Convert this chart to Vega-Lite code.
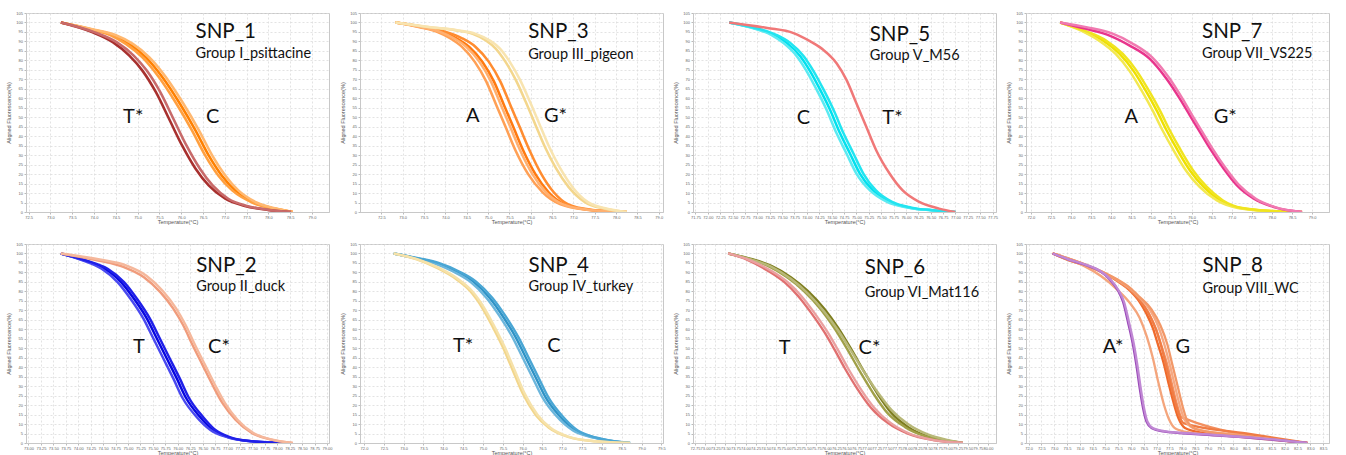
{
"$schema":"https://vega.github.io/schema/vega-lite/v6.json",
"background":"white",
"padding":{"left":5,"top":10,"right":2,"bottom":0},
"columns":4,
"spacing":{"row":16,"column":6},
"datasets":{
"curves":[
{"p":1,"k":"1Ca","t":73.24,"f":100},{"p":1,"k":"1Ca","t":73.97,"f":96.2},{"p":1,"k":"1Ca","t":74.43,"f":93.4},{"p":1,"k":"1Ca","t":74.81,"f":88.7},{"p":1,"k":"1Ca","t":75.19,"f":81.6},{"p":1,"k":"1Ca","t":75.57,"f":71.1},{"p":1,"k":"1Ca","t":75.95,"f":57.9},{"p":1,"k":"1Ca","t":76.33,"f":43.0},{"p":1,"k":"1Ca","t":76.63,"f":29.9},{"p":1,"k":"1Ca","t":76.93,"f":19.3},{"p":1,"k":"1Ca","t":77.24,"f":11.4},{"p":1,"k":"1Ca","t":77.69,"f":4.9},{"p":1,"k":"1Ca","t":78.14,"f":1.8},{"p":1,"k":"1Ca","t":78.56,"f":0},
{"p":1,"k":"1Cb","t":73.24,"f":100},{"p":1,"k":"1Cb","t":73.93,"f":96.2},{"p":1,"k":"1Cb","t":74.37,"f":93.4},{"p":1,"k":"1Cb","t":74.73,"f":88.7},{"p":1,"k":"1Cb","t":75.11,"f":81.6},{"p":1,"k":"1Cb","t":75.49,"f":71.1},{"p":1,"k":"1Cb","t":75.87,"f":57.9},{"p":1,"k":"1Cb","t":76.25,"f":43.0},{"p":1,"k":"1Cb","t":76.55,"f":29.9},{"p":1,"k":"1Cb","t":76.85,"f":19.3},{"p":1,"k":"1Cb","t":77.17,"f":11.4},{"p":1,"k":"1Cb","t":77.64,"f":4.9},{"p":1,"k":"1Cb","t":78.10,"f":1.8},{"p":1,"k":"1Cb","t":78.56,"f":0},
{"p":1,"k":"1Cc","t":73.24,"f":100},{"p":1,"k":"1Cc","t":74.01,"f":96.2},{"p":1,"k":"1Cc","t":74.49,"f":93.4},{"p":1,"k":"1Cc","t":74.89,"f":88.7},{"p":1,"k":"1Cc","t":75.27,"f":81.6},{"p":1,"k":"1Cc","t":75.65,"f":71.1},{"p":1,"k":"1Cc","t":76.03,"f":57.9},{"p":1,"k":"1Cc","t":76.41,"f":43.0},{"p":1,"k":"1Cc","t":76.71,"f":29.9},{"p":1,"k":"1Cc","t":77.01,"f":19.3},{"p":1,"k":"1Cc","t":77.31,"f":11.4},{"p":1,"k":"1Cc","t":77.74,"f":4.9},{"p":1,"k":"1Cc","t":78.18,"f":1.8},{"p":1,"k":"1Cc","t":78.56,"f":0},
{"p":1,"k":"1Ta","t":73.24,"f":100},{"p":1,"k":"1Ta","t":73.97,"f":94.8},{"p":1,"k":"1Ta","t":74.43,"f":89.6},{"p":1,"k":"1Ta","t":74.81,"f":82.5},{"p":1,"k":"1Ta","t":75.11,"f":74.6},{"p":1,"k":"1Ta","t":75.42,"f":63.2},{"p":1,"k":"1Ta","t":75.72,"f":49.2},{"p":1,"k":"1Ta","t":76.02,"f":35.1},{"p":1,"k":"1Ta","t":76.33,"f":22.8},{"p":1,"k":"1Ta","t":76.63,"f":14.0},{"p":1,"k":"1Ta","t":77.01,"f":7.0},{"p":1,"k":"1Ta","t":77.46,"f":3.2},{"p":1,"k":"1Ta","t":77.99,"f":1.1},{"p":1,"k":"1Ta","t":78.52,"f":0},
{"p":1,"k":"1Tb","t":73.24,"f":100},{"p":1,"k":"1Tb","t":74.02,"f":94.8},{"p":1,"k":"1Tb","t":74.52,"f":89.6},{"p":1,"k":"1Tb","t":74.91,"f":82.5},{"p":1,"k":"1Tb","t":75.21,"f":74.6},{"p":1,"k":"1Tb","t":75.52,"f":63.2},{"p":1,"k":"1Tb","t":75.82,"f":49.2},{"p":1,"k":"1Tb","t":76.12,"f":35.1},{"p":1,"k":"1Tb","t":76.43,"f":22.8},{"p":1,"k":"1Tb","t":76.72,"f":14.0},{"p":1,"k":"1Tb","t":77.08,"f":7.0},{"p":1,"k":"1Tb","t":77.51,"f":3.2},{"p":1,"k":"1Tb","t":78.02,"f":1.1},{"p":1,"k":"1Tb","t":78.52,"f":0},

{"p":3,"k":"3Aa","t":72.83,"f":100},{"p":3,"k":"3Aa","t":73.47,"f":97.5},{"p":3,"k":"3Aa","t":73.94,"f":94.9},{"p":3,"k":"3Aa","t":74.25,"f":91.8},{"p":3,"k":"3Aa","t":74.56,"f":87.1},{"p":3,"k":"3Aa","t":74.87,"f":79.2},{"p":3,"k":"3Aa","t":75.14,"f":68.8},{"p":3,"k":"3Aa","t":75.37,"f":56.6},{"p":3,"k":"3Aa","t":75.60,"f":44.4},{"p":3,"k":"3Aa","t":75.83,"f":32.2},{"p":3,"k":"3Aa","t":76.11,"f":20.0},{"p":3,"k":"3Aa","t":76.42,"f":10.4},{"p":3,"k":"3Aa","t":76.80,"f":4.0},{"p":3,"k":"3Aa","t":77.35,"f":1.2},{"p":3,"k":"3Aa","t":78.25,"f":0},
{"p":3,"k":"3Ab","t":72.83,"f":100},{"p":3,"k":"3Ab","t":73.40,"f":97.5},{"p":3,"k":"3Ab","t":73.82,"f":94.9},{"p":3,"k":"3Ab","t":74.10,"f":91.8},{"p":3,"k":"3Ab","t":74.39,"f":87.1},{"p":3,"k":"3Ab","t":74.69,"f":79.2},{"p":3,"k":"3Ab","t":74.96,"f":68.8},{"p":3,"k":"3Ab","t":75.19,"f":56.6},{"p":3,"k":"3Ab","t":75.42,"f":44.4},{"p":3,"k":"3Ab","t":75.65,"f":32.2},{"p":3,"k":"3Ab","t":75.94,"f":20.0},{"p":3,"k":"3Ab","t":76.28,"f":10.4},{"p":3,"k":"3Ab","t":76.70,"f":4.0},{"p":3,"k":"3Ab","t":77.30,"f":1.2},{"p":3,"k":"3Ab","t":78.25,"f":0},
{"p":3,"k":"3Ac","t":72.83,"f":100},{"p":3,"k":"3Ac","t":73.52,"f":97.5},{"p":3,"k":"3Ac","t":74.03,"f":94.9},{"p":3,"k":"3Ac","t":74.38,"f":91.8},{"p":3,"k":"3Ac","t":74.71,"f":87.1},{"p":3,"k":"3Ac","t":75.02,"f":79.2},{"p":3,"k":"3Ac","t":75.29,"f":68.8},{"p":3,"k":"3Ac","t":75.52,"f":56.6},{"p":3,"k":"3Ac","t":75.75,"f":44.4},{"p":3,"k":"3Ac","t":75.98,"f":32.2},{"p":3,"k":"3Ac","t":76.25,"f":20.0},{"p":3,"k":"3Ac","t":76.54,"f":10.4},{"p":3,"k":"3Ac","t":76.88,"f":4.0},{"p":3,"k":"3Ac","t":77.40,"f":1.2},{"p":3,"k":"3Ac","t":78.25,"f":0},
{"p":3,"k":"3Ad","t":72.83,"f":100},{"p":3,"k":"3Ad","t":73.44,"f":97.5},{"p":3,"k":"3Ad","t":73.89,"f":94.9},{"p":3,"k":"3Ad","t":74.19,"f":91.8},{"p":3,"k":"3Ad","t":74.49,"f":87.1},{"p":3,"k":"3Ad","t":74.80,"f":79.2},{"p":3,"k":"3Ad","t":75.07,"f":68.8},{"p":3,"k":"3Ad","t":75.30,"f":56.6},{"p":3,"k":"3Ad","t":75.53,"f":44.4},{"p":3,"k":"3Ad","t":75.76,"f":32.2},{"p":3,"k":"3Ad","t":76.04,"f":20.0},{"p":3,"k":"3Ad","t":76.36,"f":10.4},{"p":3,"k":"3Ad","t":76.76,"f":4.0},{"p":3,"k":"3Ad","t":77.33,"f":1.2},{"p":3,"k":"3Ad","t":78.25,"f":0},
{"p":3,"k":"3Ga","t":72.83,"f":100},{"p":3,"k":"3Ga","t":73.63,"f":97.5},{"p":3,"k":"3Ga","t":74.25,"f":95.8},{"p":3,"k":"3Ga","t":74.64,"f":94.0},{"p":3,"k":"3Ga","t":74.95,"f":90.5},{"p":3,"k":"3Ga","t":75.18,"f":86.2},{"p":3,"k":"3Ga","t":75.41,"f":79.2},{"p":3,"k":"3Ga","t":75.65,"f":69.7},{"p":3,"k":"3Ga","t":75.88,"f":58.3},{"p":3,"k":"3Ga","t":76.11,"f":46.1},{"p":3,"k":"3Ga","t":76.34,"f":34.0},{"p":3,"k":"3Ga","t":76.58,"f":23.5},{"p":3,"k":"3Ga","t":76.89,"f":13.1},{"p":3,"k":"3Ga","t":77.27,"f":5.2},{"p":3,"k":"3Ga","t":77.74,"f":1.7},{"p":3,"k":"3Ga","t":78.25,"f":0},
{"p":3,"k":"3Gb","t":72.83,"f":100},{"p":3,"k":"3Gb","t":73.66,"f":97.5},{"p":3,"k":"3Gb","t":74.30,"f":95.8},{"p":3,"k":"3Gb","t":74.71,"f":94.0},{"p":3,"k":"3Gb","t":75.04,"f":90.5},{"p":3,"k":"3Gb","t":75.28,"f":86.2},{"p":3,"k":"3Gb","t":75.51,"f":79.2},{"p":3,"k":"3Gb","t":75.75,"f":69.7},{"p":3,"k":"3Gb","t":75.98,"f":58.3},{"p":3,"k":"3Gb","t":76.21,"f":46.1},{"p":3,"k":"3Gb","t":76.44,"f":34.0},{"p":3,"k":"3Gb","t":76.68,"f":23.5},{"p":3,"k":"3Gb","t":76.98,"f":13.1},{"p":3,"k":"3Gb","t":77.34,"f":5.2},{"p":3,"k":"3Gb","t":77.79,"f":1.7},{"p":3,"k":"3Gb","t":78.25,"f":0},

{"p":5,"k":"5Ca","t":72.43,"f":100},{"p":5,"k":"5Ca","t":72.93,"f":97.1},{"p":5,"k":"5Ca","t":73.33,"f":93.5},{"p":5,"k":"5Ca","t":73.60,"f":89.1},{"p":5,"k":"5Ca","t":73.87,"f":82.1},{"p":5,"k":"5Ca","t":74.07,"f":74.1},{"p":5,"k":"5Ca","t":74.27,"f":64.4},{"p":5,"k":"5Ca","t":74.47,"f":53.8},{"p":5,"k":"5Ca","t":74.67,"f":41.5},{"p":5,"k":"5Ca","t":74.87,"f":30.9},{"p":5,"k":"5Ca","t":75.07,"f":20.3},{"p":5,"k":"5Ca","t":75.33,"f":11.5},{"p":5,"k":"5Ca","t":75.67,"f":5.3},{"p":5,"k":"5Ca","t":76.07,"f":2.3},{"p":5,"k":"5Ca","t":76.53,"f":0.9},{"p":5,"k":"5Ca","t":77.00,"f":0},
{"p":5,"k":"5Cb","t":72.43,"f":100},{"p":5,"k":"5Cb","t":72.90,"f":97.1},{"p":5,"k":"5Cb","t":73.28,"f":93.5},{"p":5,"k":"5Cb","t":73.53,"f":89.1},{"p":5,"k":"5Cb","t":73.80,"f":82.1},{"p":5,"k":"5Cb","t":74.00,"f":74.1},{"p":5,"k":"5Cb","t":74.20,"f":64.4},{"p":5,"k":"5Cb","t":74.40,"f":53.8},{"p":5,"k":"5Cb","t":74.60,"f":41.5},{"p":5,"k":"5Cb","t":74.80,"f":30.9},{"p":5,"k":"5Cb","t":75.00,"f":20.3},{"p":5,"k":"5Cb","t":75.27,"f":11.5},{"p":5,"k":"5Cb","t":75.62,"f":5.3},{"p":5,"k":"5Cb","t":76.03,"f":2.3},{"p":5,"k":"5Cb","t":76.51,"f":0.9},{"p":5,"k":"5Cb","t":77.00,"f":0},
{"p":5,"k":"5Cc","t":72.43,"f":100},{"p":5,"k":"5Cc","t":72.96,"f":97.1},{"p":5,"k":"5Cc","t":73.38,"f":93.5},{"p":5,"k":"5Cc","t":73.67,"f":89.1},{"p":5,"k":"5Cc","t":73.94,"f":82.1},{"p":5,"k":"5Cc","t":74.14,"f":74.1},{"p":5,"k":"5Cc","t":74.34,"f":64.4},{"p":5,"k":"5Cc","t":74.54,"f":53.8},{"p":5,"k":"5Cc","t":74.74,"f":41.5},{"p":5,"k":"5Cc","t":74.94,"f":30.9},{"p":5,"k":"5Cc","t":75.14,"f":20.3},{"p":5,"k":"5Cc","t":75.39,"f":11.5},{"p":5,"k":"5Cc","t":75.72,"f":5.3},{"p":5,"k":"5Cc","t":76.11,"f":2.3},{"p":5,"k":"5Cc","t":76.55,"f":0.9},{"p":5,"k":"5Cc","t":77.00,"f":0},
{"p":5,"k":"5T","t":72.43,"f":100},{"p":5,"k":"5T","t":73.20,"f":97.1},{"p":5,"k":"5T","t":73.73,"f":94.4},{"p":5,"k":"5T","t":74.07,"f":90.0},{"p":5,"k":"5T","t":74.33,"f":85.6},{"p":5,"k":"5T","t":74.60,"f":78.5},{"p":5,"k":"5T","t":74.80,"f":69.7},{"p":5,"k":"5T","t":75.00,"f":57.4},{"p":5,"k":"5T","t":75.20,"f":45.0},{"p":5,"k":"5T","t":75.40,"f":32.6},{"p":5,"k":"5T","t":75.67,"f":20.3},{"p":5,"k":"5T","t":75.93,"f":11.5},{"p":5,"k":"5T","t":76.27,"f":5.3},{"p":5,"k":"5T","t":76.67,"f":1.8},{"p":5,"k":"5T","t":77.00,"f":0},

{"p":7,"k":"7Aa","t":72.73,"f":100},{"p":7,"k":"7Aa","t":73.30,"f":95.7},{"p":7,"k":"7Aa","t":73.80,"f":90.4},{"p":7,"k":"7Aa","t":74.21,"f":83.4},{"p":7,"k":"7Aa","t":74.55,"f":74.6},{"p":7,"k":"7Aa","t":74.88,"f":63.2},{"p":7,"k":"7Aa","t":75.13,"f":53.6},{"p":7,"k":"7Aa","t":75.38,"f":43.0},{"p":7,"k":"7Aa","t":75.63,"f":33.4},{"p":7,"k":"7Aa","t":75.96,"f":21.9},{"p":7,"k":"7Aa","t":76.30,"f":13.2},{"p":7,"k":"7Aa","t":76.71,"f":6.1},{"p":7,"k":"7Aa","t":77.21,"f":2.1},{"p":7,"k":"7Aa","t":77.96,"f":0.5},{"p":7,"k":"7Aa","t":78.75,"f":0},
{"p":7,"k":"7Ab","t":72.73,"f":100},{"p":7,"k":"7Ab","t":73.25,"f":95.7},{"p":7,"k":"7Ab","t":73.70,"f":90.4},{"p":7,"k":"7Ab","t":74.11,"f":83.4},{"p":7,"k":"7Ab","t":74.45,"f":74.6},{"p":7,"k":"7Ab","t":74.78,"f":63.2},{"p":7,"k":"7Ab","t":75.03,"f":53.6},{"p":7,"k":"7Ab","t":75.28,"f":43.0},{"p":7,"k":"7Ab","t":75.53,"f":33.4},{"p":7,"k":"7Ab","t":75.86,"f":21.9},{"p":7,"k":"7Ab","t":76.20,"f":13.2},{"p":7,"k":"7Ab","t":76.63,"f":6.1},{"p":7,"k":"7Ab","t":77.15,"f":2.1},{"p":7,"k":"7Ab","t":77.92,"f":0.5},{"p":7,"k":"7Ab","t":78.75,"f":0},
{"p":7,"k":"7Ac","t":72.73,"f":100},{"p":7,"k":"7Ac","t":73.34,"f":95.7},{"p":7,"k":"7Ac","t":73.88,"f":90.4},{"p":7,"k":"7Ac","t":74.29,"f":83.4},{"p":7,"k":"7Ac","t":74.63,"f":74.6},{"p":7,"k":"7Ac","t":74.96,"f":63.2},{"p":7,"k":"7Ac","t":75.21,"f":53.6},{"p":7,"k":"7Ac","t":75.46,"f":43.0},{"p":7,"k":"7Ac","t":75.71,"f":33.4},{"p":7,"k":"7Ac","t":76.04,"f":21.9},{"p":7,"k":"7Ac","t":76.38,"f":13.2},{"p":7,"k":"7Ac","t":76.78,"f":6.1},{"p":7,"k":"7Ac","t":77.26,"f":2.1},{"p":7,"k":"7Ac","t":78.00,"f":0.5},{"p":7,"k":"7Ac","t":78.75,"f":0},
{"p":7,"k":"7Ga","t":72.73,"f":100},{"p":7,"k":"7Ga","t":73.38,"f":96.6},{"p":7,"k":"7Ga","t":73.96,"f":93.1},{"p":7,"k":"7Ga","t":74.46,"f":87.8},{"p":7,"k":"7Ga","t":74.96,"f":80.8},{"p":7,"k":"7Ga","t":75.38,"f":70.2},{"p":7,"k":"7Ga","t":75.71,"f":59.7},{"p":7,"k":"7Ga","t":75.96,"f":50.9},{"p":7,"k":"7Ga","t":76.21,"f":42.1},{"p":7,"k":"7Ga","t":76.46,"f":33.4},{"p":7,"k":"7Ga","t":76.80,"f":22.8},{"p":7,"k":"7Ga","t":77.13,"f":14.0},{"p":7,"k":"7Ga","t":77.55,"f":7.0},{"p":7,"k":"7Ga","t":78.05,"f":2.6},{"p":7,"k":"7Ga","t":78.75,"f":0},
{"p":7,"k":"7Gb","t":72.73,"f":100},{"p":7,"k":"7Gb","t":73.41,"f":97.4},{"p":7,"k":"7Gb","t":74.02,"f":94.2},{"p":7,"k":"7Gb","t":74.52,"f":89.0},{"p":7,"k":"7Gb","t":75.02,"f":81.6},{"p":7,"k":"7Gb","t":75.44,"f":70.8},{"p":7,"k":"7Gb","t":75.77,"f":59.9},{"p":7,"k":"7Gb","t":76.02,"f":50.9},{"p":7,"k":"7Gb","t":76.27,"f":42.1},{"p":7,"k":"7Gb","t":76.52,"f":33.4},{"p":7,"k":"7Gb","t":76.86,"f":22.8},{"p":7,"k":"7Gb","t":77.19,"f":14.0},{"p":7,"k":"7Gb","t":77.60,"f":7.0},{"p":7,"k":"7Gb","t":78.08,"f":2.6},{"p":7,"k":"7Gb","t":78.75,"f":0},

{"p":2,"k":"2Ta","t":73.65,"f":100},{"p":2,"k":"2Ta","t":74.13,"f":96.3},{"p":2,"k":"2Ta","t":74.53,"f":91.9},{"p":2,"k":"2Ta","t":74.86,"f":84.9},{"p":2,"k":"2Ta","t":75.12,"f":76.1},{"p":2,"k":"2Ta","t":75.38,"f":65.6},{"p":2,"k":"2Ta","t":75.58,"f":55.1},{"p":2,"k":"2Ta","t":75.78,"f":44.6},{"p":2,"k":"2Ta","t":75.98,"f":34.1},{"p":2,"k":"2Ta","t":76.17,"f":23.6},{"p":2,"k":"2Ta","t":76.44,"f":14.0},{"p":2,"k":"2Ta","t":76.70,"f":7.0},{"p":2,"k":"2Ta","t":77.03,"f":3.0},{"p":2,"k":"2Ta","t":77.49,"f":0.9},{"p":2,"k":"2Ta","t":78.21,"f":0},
{"p":2,"k":"2Tb","t":73.65,"f":100},{"p":2,"k":"2Tb","t":74.10,"f":96.3},{"p":2,"k":"2Tb","t":74.47,"f":91.9},{"p":2,"k":"2Tb","t":74.79,"f":84.9},{"p":2,"k":"2Tb","t":75.05,"f":76.1},{"p":2,"k":"2Tb","t":75.31,"f":65.6},{"p":2,"k":"2Tb","t":75.51,"f":55.1},{"p":2,"k":"2Tb","t":75.71,"f":44.6},{"p":2,"k":"2Tb","t":75.91,"f":34.1},{"p":2,"k":"2Tb","t":76.10,"f":23.6},{"p":2,"k":"2Tb","t":76.37,"f":14.0},{"p":2,"k":"2Tb","t":76.65,"f":7.0},{"p":2,"k":"2Tb","t":77.00,"f":3.0},{"p":2,"k":"2Tb","t":77.47,"f":0.9},{"p":2,"k":"2Tb","t":78.21,"f":0},
{"p":2,"k":"2Tc","t":73.65,"f":100},{"p":2,"k":"2Tc","t":74.16,"f":96.3},{"p":2,"k":"2Tc","t":74.59,"f":91.9},{"p":2,"k":"2Tc","t":74.92,"f":84.9},{"p":2,"k":"2Tc","t":75.18,"f":76.1},{"p":2,"k":"2Tc","t":75.44,"f":65.6},{"p":2,"k":"2Tc","t":75.64,"f":55.1},{"p":2,"k":"2Tc","t":75.84,"f":44.6},{"p":2,"k":"2Tc","t":76.04,"f":34.1},{"p":2,"k":"2Tc","t":76.23,"f":23.6},{"p":2,"k":"2Tc","t":76.50,"f":14.0},{"p":2,"k":"2Tc","t":76.75,"f":7.0},{"p":2,"k":"2Tc","t":77.06,"f":3.0},{"p":2,"k":"2Tc","t":77.51,"f":0.9},{"p":2,"k":"2Tc","t":78.21,"f":0},
{"p":2,"k":"2Ca","t":73.65,"f":100},{"p":2,"k":"2Ca","t":74.40,"f":96.3},{"p":2,"k":"2Ca","t":74.92,"f":92.8},{"p":2,"k":"2Ca","t":75.32,"f":87.5},{"p":2,"k":"2Ca","t":75.65,"f":79.6},{"p":2,"k":"2Ca","t":75.91,"f":70.9},{"p":2,"k":"2Ca","t":76.11,"f":62.1},{"p":2,"k":"2Ca","t":76.30,"f":51.6},{"p":2,"k":"2Ca","t":76.50,"f":41.1},{"p":2,"k":"2Ca","t":76.70,"f":30.6},{"p":2,"k":"2Ca","t":76.90,"f":21.0},{"p":2,"k":"2Ca","t":77.16,"f":12.3},{"p":2,"k":"2Ca","t":77.49,"f":5.3},{"p":2,"k":"2Ca","t":77.88,"f":1.8},{"p":2,"k":"2Ca","t":78.31,"f":0},
{"p":2,"k":"2Cb","t":73.65,"f":100},{"p":2,"k":"2Cb","t":74.43,"f":96.8},{"p":2,"k":"2Cb","t":74.97,"f":93.6},{"p":2,"k":"2Cb","t":75.37,"f":88.3},{"p":2,"k":"2Cb","t":75.70,"f":80.2},{"p":2,"k":"2Cb","t":75.96,"f":71.3},{"p":2,"k":"2Cb","t":76.16,"f":62.1},{"p":2,"k":"2Cb","t":76.35,"f":51.6},{"p":2,"k":"2Cb","t":76.55,"f":41.1},{"p":2,"k":"2Cb","t":76.75,"f":30.6},{"p":2,"k":"2Cb","t":76.95,"f":21.0},{"p":2,"k":"2Cb","t":77.20,"f":12.3},{"p":2,"k":"2Cb","t":77.52,"f":5.3},{"p":2,"k":"2Cb","t":77.90,"f":1.8},{"p":2,"k":"2Cb","t":78.31,"f":0},

{"p":4,"k":"4Ca","t":72.75,"f":100},{"p":4,"k":"4Ca","t":73.33,"f":97.5},{"p":4,"k":"4Ca","t":73.83,"f":94.9},{"p":4,"k":"4Ca","t":74.33,"f":90.5},{"p":4,"k":"4Ca","t":74.75,"f":85.3},{"p":4,"k":"4Ca","t":75.17,"f":76.5},{"p":4,"k":"4Ca","t":75.50,"f":66.9},{"p":4,"k":"4Ca","t":75.83,"f":55.6},{"p":4,"k":"4Ca","t":76.08,"f":45.1},{"p":4,"k":"4Ca","t":76.33,"f":34.6},{"p":4,"k":"4Ca","t":76.58,"f":24.1},{"p":4,"k":"4Ca","t":76.92,"f":14.5},{"p":4,"k":"4Ca","t":77.33,"f":6.6},{"p":4,"k":"4Ca","t":77.83,"f":2.8},{"p":4,"k":"4Ca","t":78.71,"f":0},
{"p":4,"k":"4Cb","t":72.75,"f":100},{"p":4,"k":"4Cb","t":73.29,"f":97.5},{"p":4,"k":"4Cb","t":73.75,"f":94.9},{"p":4,"k":"4Cb","t":74.25,"f":90.5},{"p":4,"k":"4Cb","t":74.67,"f":85.3},{"p":4,"k":"4Cb","t":75.09,"f":76.5},{"p":4,"k":"4Cb","t":75.42,"f":66.9},{"p":4,"k":"4Cb","t":75.75,"f":55.6},{"p":4,"k":"4Cb","t":76.00,"f":45.1},{"p":4,"k":"4Cb","t":76.25,"f":34.6},{"p":4,"k":"4Cb","t":76.50,"f":24.1},{"p":4,"k":"4Cb","t":76.84,"f":14.5},{"p":4,"k":"4Cb","t":77.27,"f":6.6},{"p":4,"k":"4Cb","t":77.79,"f":2.8},{"p":4,"k":"4Cb","t":78.71,"f":0},
{"p":4,"k":"4Cc","t":72.75,"f":100},{"p":4,"k":"4Cc","t":73.37,"f":97.5},{"p":4,"k":"4Cc","t":73.90,"f":94.9},{"p":4,"k":"4Cc","t":74.40,"f":90.5},{"p":4,"k":"4Cc","t":74.82,"f":85.3},{"p":4,"k":"4Cc","t":75.24,"f":76.5},{"p":4,"k":"4Cc","t":75.57,"f":66.9},{"p":4,"k":"4Cc","t":75.90,"f":55.6},{"p":4,"k":"4Cc","t":76.15,"f":45.1},{"p":4,"k":"4Cc","t":76.40,"f":34.6},{"p":4,"k":"4Cc","t":76.65,"f":24.1},{"p":4,"k":"4Cc","t":76.99,"f":14.5},{"p":4,"k":"4Cc","t":77.39,"f":6.6},{"p":4,"k":"4Cc","t":77.87,"f":2.8},{"p":4,"k":"4Cc","t":78.71,"f":0},
{"p":4,"k":"4Ta","t":72.75,"f":100},{"p":4,"k":"4Ta","t":73.33,"f":96.9},{"p":4,"k":"4Ta","t":73.83,"f":92.5},{"p":4,"k":"4Ta","t":74.33,"f":86.4},{"p":4,"k":"4Ta","t":74.67,"f":80.3},{"p":4,"k":"4Ta","t":75.00,"f":70.7},{"p":4,"k":"4Ta","t":75.25,"f":61.1},{"p":4,"k":"4Ta","t":75.50,"f":50.6},{"p":4,"k":"4Ta","t":75.75,"f":38.4},{"p":4,"k":"4Ta","t":76.00,"f":26.2},{"p":4,"k":"4Ta","t":76.33,"f":14.8},{"p":4,"k":"4Ta","t":76.67,"f":7.9},{"p":4,"k":"4Ta","t":77.17,"f":3.1},{"p":4,"k":"4Ta","t":77.83,"f":0.9},{"p":4,"k":"4Ta","t":78.71,"f":0},
{"p":4,"k":"4Tb","t":72.75,"f":100},{"p":4,"k":"4Tb","t":73.36,"f":96.9},{"p":4,"k":"4Tb","t":73.88,"f":92.5},{"p":4,"k":"4Tb","t":74.38,"f":86.4},{"p":4,"k":"4Tb","t":74.72,"f":80.3},{"p":4,"k":"4Tb","t":75.05,"f":70.7},{"p":4,"k":"4Tb","t":75.30,"f":61.1},{"p":4,"k":"4Tb","t":75.55,"f":50.6},{"p":4,"k":"4Tb","t":75.80,"f":38.4},{"p":4,"k":"4Tb","t":76.05,"f":26.2},{"p":4,"k":"4Tb","t":76.38,"f":14.8},{"p":4,"k":"4Tb","t":76.71,"f":7.9},{"p":4,"k":"4Tb","t":77.20,"f":3.1},{"p":4,"k":"4Tb","t":77.85,"f":0.9},{"p":4,"k":"4Tb","t":78.71,"f":0},

{"p":6,"k":"6Ca","t":73.57,"f":100},{"p":6,"k":"6Ca","t":74.14,"f":97.1},{"p":6,"k":"6Ca","t":74.64,"f":93.5},{"p":6,"k":"6Ca","t":75.13,"f":87.4},{"p":6,"k":"6Ca","t":75.54,"f":80.3},{"p":6,"k":"6Ca","t":75.96,"f":70.6},{"p":6,"k":"6Ca","t":76.29,"f":60.9},{"p":6,"k":"6Ca","t":76.62,"f":49.4},{"p":6,"k":"6Ca","t":76.95,"f":37.1},{"p":6,"k":"6Ca","t":77.28,"f":25.6},{"p":6,"k":"6Ca","t":77.61,"f":15.9},{"p":6,"k":"6Ca","t":78.02,"f":8.5},{"p":6,"k":"6Ca","t":78.51,"f":3.5},{"p":6,"k":"6Ca","t":79.01,"f":1.2},{"p":6,"k":"6Ca","t":79.38,"f":0},
{"p":6,"k":"6Cb","t":73.57,"f":100},{"p":6,"k":"6Cb","t":74.09,"f":97.1},{"p":6,"k":"6Cb","t":74.54,"f":93.5},{"p":6,"k":"6Cb","t":75.03,"f":87.4},{"p":6,"k":"6Cb","t":75.44,"f":80.3},{"p":6,"k":"6Cb","t":75.86,"f":70.6},{"p":6,"k":"6Cb","t":76.19,"f":60.9},{"p":6,"k":"6Cb","t":76.52,"f":49.4},{"p":6,"k":"6Cb","t":76.85,"f":37.1},{"p":6,"k":"6Cb","t":77.18,"f":25.6},{"p":6,"k":"6Cb","t":77.51,"f":15.9},{"p":6,"k":"6Cb","t":77.94,"f":8.5},{"p":6,"k":"6Cb","t":78.46,"f":3.5},{"p":6,"k":"6Cb","t":78.99,"f":1.2},{"p":6,"k":"6Cb","t":79.38,"f":0},
{"p":6,"k":"6Cc","t":73.57,"f":100},{"p":6,"k":"6Cc","t":74.14,"f":96.8},{"p":6,"k":"6Cc","t":74.64,"f":93.0},{"p":6,"k":"6Cc","t":75.13,"f":86.5},{"p":6,"k":"6Cc","t":75.54,"f":79.0},{"p":6,"k":"6Cc","t":75.96,"f":69.0},{"p":6,"k":"6Cc","t":76.29,"f":59.5},{"p":6,"k":"6Cc","t":76.62,"f":48.5},{"p":6,"k":"6Cc","t":76.95,"f":37.0},{"p":6,"k":"6Cc","t":77.28,"f":26.5},{"p":6,"k":"6Cc","t":77.61,"f":17.5},{"p":6,"k":"6Cc","t":78.02,"f":10.0},{"p":6,"k":"6Cc","t":78.51,"f":4.5},{"p":6,"k":"6Cc","t":79.01,"f":1.5},{"p":6,"k":"6Cc","t":79.38,"f":0},
{"p":6,"k":"6Ta","t":73.57,"f":100},{"p":6,"k":"6Ta","t":74.06,"f":96.5},{"p":6,"k":"6Ta","t":74.55,"f":90.9},{"p":6,"k":"6Ta","t":74.97,"f":84.7},{"p":6,"k":"6Ta","t":75.30,"f":77.6},{"p":6,"k":"6Ta","t":75.62,"f":68.8},{"p":6,"k":"6Ta","t":75.96,"f":58.2},{"p":6,"k":"6Ta","t":76.20,"f":49.4},{"p":6,"k":"6Ta","t":76.45,"f":39.7},{"p":6,"k":"6Ta","t":76.78,"f":28.2},{"p":6,"k":"6Ta","t":77.11,"f":18.5},{"p":6,"k":"6Ta","t":77.52,"f":10.6},{"p":6,"k":"6Ta","t":78.02,"f":4.9},{"p":6,"k":"6Ta","t":78.68,"f":1.4},{"p":6,"k":"6Ta","t":79.38,"f":0},
{"p":6,"k":"6Tb","t":73.57,"f":100},{"p":6,"k":"6Tb","t":74.10,"f":96.5},{"p":6,"k":"6Tb","t":74.63,"f":90.9},{"p":6,"k":"6Tb","t":75.05,"f":84.7},{"p":6,"k":"6Tb","t":75.38,"f":77.6},{"p":6,"k":"6Tb","t":75.70,"f":68.8},{"p":6,"k":"6Tb","t":76.04,"f":58.2},{"p":6,"k":"6Tb","t":76.28,"f":49.4},{"p":6,"k":"6Tb","t":76.53,"f":39.7},{"p":6,"k":"6Tb","t":76.86,"f":28.2},{"p":6,"k":"6Tb","t":77.19,"f":18.5},{"p":6,"k":"6Tb","t":77.59,"f":10.6},{"p":6,"k":"6Tb","t":78.07,"f":4.9},{"p":6,"k":"6Tb","t":78.71,"f":1.4},{"p":6,"k":"6Tb","t":79.38,"f":0},

{"p":8,"k":"8Ga","t":72.94,"f":100},{"p":8,"k":"8Ga","t":73.59,"f":96.3},{"p":8,"k":"8Ga","t":74.25,"f":93.6},{"p":8,"k":"8Ga","t":74.90,"f":90.1},{"p":8,"k":"8Ga","t":75.42,"f":85.8},{"p":8,"k":"8Ga","t":75.95,"f":80.5},{"p":8,"k":"8Ga","t":76.34,"f":74.4},{"p":8,"k":"8Ga","t":76.60,"f":68.3},{"p":8,"k":"8Ga","t":76.86,"f":60.4},{"p":8,"k":"8Ga","t":77.06,"f":51.6},{"p":8,"k":"8Ga","t":77.26,"f":42.9},{"p":8,"k":"8Ga","t":77.45,"f":32.4},{"p":8,"k":"8Ga","t":77.65,"f":21.9},{"p":8,"k":"8Ga","t":77.85,"f":13.1},{"p":8,"k":"8Ga","t":78.11,"f":7.9},{"p":8,"k":"8Ga","t":78.83,"f":5.3},{"p":8,"k":"8Ga","t":80.14,"f":3.5},{"p":8,"k":"8Ga","t":81.44,"f":2.1},{"p":8,"k":"8Ga","t":82.88,"f":0},
{"p":8,"k":"8Gb","t":72.94,"f":100},{"p":8,"k":"8Gb","t":73.59,"f":96.3},{"p":8,"k":"8Gb","t":74.25,"f":93.6},{"p":8,"k":"8Gb","t":74.90,"f":90.1},{"p":8,"k":"8Gb","t":75.42,"f":86.0},{"p":8,"k":"8Gb","t":75.95,"f":81.0},{"p":8,"k":"8Gb","t":76.34,"f":75.5},{"p":8,"k":"8Gb","t":76.65,"f":69.5},{"p":8,"k":"8Gb","t":76.95,"f":61.0},{"p":8,"k":"8Gb","t":77.18,"f":51.6},{"p":8,"k":"8Gb","t":77.40,"f":42.0},{"p":8,"k":"8Gb","t":77.60,"f":31.0},{"p":8,"k":"8Gb","t":77.80,"f":20.0},{"p":8,"k":"8Gb","t":77.98,"f":13.5},{"p":8,"k":"8Gb","t":82.88,"f":0},
{"p":8,"k":"8Gc","t":72.94,"f":100},{"p":8,"k":"8Gc","t":75.42,"f":81.5},{"p":8,"k":"8Gc","t":75.95,"f":74.0},{"p":8,"k":"8Gc","t":76.34,"f":66.0},{"p":8,"k":"8Gc","t":76.62,"f":56.0},{"p":8,"k":"8Gc","t":76.85,"f":45.0},{"p":8,"k":"8Gc","t":77.05,"f":33.0},{"p":8,"k":"8Gc","t":77.27,"f":21.0},{"p":8,"k":"8Gc","t":77.50,"f":12.0},{"p":8,"k":"8Gc","t":77.75,"f":7.5},{"p":8,"k":"8Gc","t":78.30,"f":5.5},{"p":8,"k":"8Gc","t":80.00,"f":3.5},{"p":8,"k":"8Gc","t":82.88,"f":0},
{"p":8,"k":"8Gd","t":72.94,"f":100},{"p":8,"k":"8Gd","t":74.25,"f":93.8},{"p":8,"k":"8Gd","t":75.42,"f":86.2},{"p":8,"k":"8Gd","t":75.95,"f":81.2},{"p":8,"k":"8Gd","t":76.34,"f":75.5},{"p":8,"k":"8Gd","t":76.70,"f":68.0},{"p":8,"k":"8Gd","t":77.00,"f":59.0},{"p":8,"k":"8Gd","t":77.22,"f":49.0},{"p":8,"k":"8Gd","t":77.42,"f":38.0},{"p":8,"k":"8Gd","t":77.62,"f":27.0},{"p":8,"k":"8Gd","t":77.82,"f":17.0},{"p":8,"k":"8Gd","t":78.05,"f":10.5},{"p":8,"k":"8Gd","t":80.50,"f":5.0},{"p":8,"k":"8Gd","t":82.88,"f":0},
{"p":8,"k":"8Ge","t":72.94,"f":100},{"p":8,"k":"8Ge","t":74.25,"f":93.8},{"p":8,"k":"8Ge","t":75.42,"f":86.4},{"p":8,"k":"8Ge","t":75.95,"f":81.6},{"p":8,"k":"8Ge","t":76.34,"f":76.5},{"p":8,"k":"8Ge","t":76.75,"f":70.0},{"p":8,"k":"8Ge","t":77.05,"f":62.0},{"p":8,"k":"8Ge","t":77.30,"f":52.0},{"p":8,"k":"8Ge","t":77.50,"f":42.0},{"p":8,"k":"8Ge","t":77.70,"f":31.0},{"p":8,"k":"8Ge","t":77.90,"f":20.0},{"p":8,"k":"8Ge","t":78.10,"f":12.0},{"p":8,"k":"8Ge","t":78.50,"f":7.5},{"p":8,"k":"8Ge","t":80.00,"f":4.5},{"p":8,"k":"8Ge","t":82.88,"f":0},
{"p":8,"k":"8Gf","t":72.94,"f":100},{"p":8,"k":"8Gf","t":74.25,"f":94.0},{"p":8,"k":"8Gf","t":75.42,"f":86.6},{"p":8,"k":"8Gf","t":75.95,"f":82.0},{"p":8,"k":"8Gf","t":76.34,"f":77.0},{"p":8,"k":"8Gf","t":76.80,"f":70.5},{"p":8,"k":"8Gf","t":77.15,"f":62.0},{"p":8,"k":"8Gf","t":77.42,"f":52.0},{"p":8,"k":"8Gf","t":77.62,"f":41.0},{"p":8,"k":"8Gf","t":77.82,"f":30.0},{"p":8,"k":"8Gf","t":78.02,"f":19.0},{"p":8,"k":"8Gf","t":78.22,"f":11.0},{"p":8,"k":"8Gf","t":78.60,"f":7.0},{"p":8,"k":"8Gf","t":80.50,"f":3.5},{"p":8,"k":"8Gf","t":82.88,"f":0},
{"p":8,"k":"8Aa","t":72.94,"f":100},{"p":8,"k":"8Aa","t":73.59,"f":96.6},{"p":8,"k":"8Aa","t":74.25,"f":93.8},{"p":8,"k":"8Aa","t":74.77,"f":90.8},{"p":8,"k":"8Aa","t":75.16,"f":86.4},{"p":8,"k":"8Aa","t":75.49,"f":80.5},{"p":8,"k":"8Aa","t":75.69,"f":74.4},{"p":8,"k":"8Aa","t":75.88,"f":63.9},{"p":8,"k":"8Aa","t":76.08,"f":51.6},{"p":8,"k":"8Aa","t":76.21,"f":41.1},{"p":8,"k":"8Aa","t":76.34,"f":28.9},{"p":8,"k":"8Aa","t":76.47,"f":18.4},{"p":8,"k":"8Aa","t":76.60,"f":11.4},{"p":8,"k":"8Aa","t":76.80,"f":7.9},{"p":8,"k":"8Aa","t":77.25,"f":6.1},{"p":8,"k":"8Aa","t":78.83,"f":4.4},{"p":8,"k":"8Aa","t":80.78,"f":2.6},{"p":8,"k":"8Aa","t":82.88,"f":0},
{"p":8,"k":"8Ab","t":72.94,"f":100},{"p":8,"k":"8Ab","t":73.59,"f":96.8},{"p":8,"k":"8Ab","t":74.25,"f":94.0},{"p":8,"k":"8Ab","t":74.77,"f":91.0},{"p":8,"k":"8Ab","t":75.18,"f":86.6},{"p":8,"k":"8Ab","t":75.52,"f":80.5},{"p":8,"k":"8Ab","t":75.73,"f":74.4},{"p":8,"k":"8Ab","t":75.92,"f":63.9},{"p":8,"k":"8Ab","t":76.12,"f":51.6},{"p":8,"k":"8Ab","t":76.25,"f":41.1},{"p":8,"k":"8Ab","t":76.38,"f":28.9},{"p":8,"k":"8Ab","t":76.51,"f":18.4},{"p":8,"k":"8Ab","t":76.64,"f":11.4},{"p":8,"k":"8Ab","t":76.85,"f":7.9},{"p":8,"k":"8Ab","t":77.30,"f":6.3},{"p":8,"k":"8Ab","t":78.83,"f":4.7},{"p":8,"k":"8Ab","t":80.78,"f":2.8},{"p":8,"k":"8Ab","t":82.88,"f":0}
],
"labels":[
{"p":1,"kind":"snp","txt":"SNP_1","t":76.33,"f":94.8},{"p":1,"kind":"grp","txt":"Group I_psittacine","t":76.33,"f":83.4},{"p":1,"kind":"gt","txt":"T*","t":74.9,"f":50},{"p":1,"kind":"gt","txt":"C","t":76.72,"f":50},
{"p":3,"kind":"snp","txt":"SNP_3","t":75.94,"f":94.9},{"p":3,"kind":"grp","txt":"Group III_pigeon","t":75.94,"f":83.1},{"p":3,"kind":"gt","txt":"A","t":74.64,"f":50.5},{"p":3,"kind":"gt","txt":"G*","t":76.58,"f":50.5},
{"p":5,"kind":"snp","txt":"SNP_5","t":75.27,"f":93.5},{"p":5,"kind":"grp","txt":"Group V_M56","t":75.27,"f":82.4},{"p":5,"kind":"gt","txt":"C","t":73.93,"f":49.4},{"p":5,"kind":"gt","txt":"T*","t":75.73,"f":49.4},
{"p":7,"kind":"snp","txt":"SNP_7","t":76.26,"f":94.8},{"p":7,"kind":"grp","txt":"Group VII_VS225","t":76.26,"f":83.4},{"p":7,"kind":"gt","txt":"A","t":74.5,"f":50},{"p":7,"kind":"gt","txt":"G*","t":76.84,"f":50},
{"p":2,"kind":"snp","txt":"SNP_2","t":76.37,"f":93.3},{"p":2,"kind":"grp","txt":"Group II_duck","t":76.37,"f":82.3},{"p":2,"kind":"gt","txt":"T","t":75.22,"f":50.75},{"p":2,"kind":"gt","txt":"C*","t":76.83,"f":50.75},
{"p":4,"kind":"snp","txt":"SNP_4","t":76.15,"f":93.6},{"p":4,"kind":"grp","txt":"Group IV_turkey","t":76.15,"f":82.1},{"p":4,"kind":"gt","txt":"T*","t":74.5,"f":51.2},{"p":4,"kind":"gt","txt":"C","t":76.79,"f":51.2},
{"p":6,"kind":"snp","txt":"SNP_6","t":76.95,"f":92.6},{"p":6,"kind":"grp","txt":"Group VI_Mat116","t":76.95,"f":79.4},{"p":6,"kind":"gt","txt":"T","t":74.97,"f":50.3},{"p":6,"kind":"gt","txt":"C*","t":77.07,"f":50.3},
{"p":8,"kind":"snp","txt":"SNP_8","t":78.79,"f":93.6},{"p":8,"kind":"grp","txt":"Group VIII_WC","t":78.79,"f":81.4},{"p":8,"kind":"gt","txt":"A*","t":75.3,"f":50.75},{"p":8,"kind":"gt","txt":"G","t":78.02,"f":50.75}
]
},
"concat":[
{"width":303,"height":199,
 "encoding":{"x":{"field":"t","type":"quantitative","scale":{"domain":[72.44,79.39],"nice":false,"zero":false},"axis":{"title":"Temperature(°C)","values":[72.5,73,73.5,74,74.5,75,75.5,76,76.5,77,77.5,78,78.5,79],"format":".1f"}},
  "y":{"field":"f","type":"quantitative","scale":{"domain":[0,105],"nice":false},"axis":{"title":"Aligned Fluorescence(%)","values":[0,5,10,15,20,25,30,35,40,45,50,55,60,65,70,75,80,85,90,95,100,105]}}},
 "layer":[
  {"data":{"name":"curves"},"transform":[{"filter":"datum.p==1"}],"mark":{"type":"line","interpolate":"monotone","clip":true},"encoding":{
   "color":{"field":"k","type":"nominal","legend":null,"scale":{"domain":["1Ca","1Cb","1Cc","1Ta","1Tb","3Aa","3Ab","3Ac","3Ad","3Ga","3Gb","5Ca","5Cb","5Cc","5T","7Aa","7Ab","7Ac","7Ga","7Gb","2Ta","2Tb","2Tc","2Ca","2Cb","4Ca","4Cb","4Cc","4Ta","4Tb","6Ca","6Cb","6Cc","6Ta","6Tb","8Ga","8Gb","8Gc","8Gd","8Ge","8Gf","8Aa","8Ab"],"range":["#ff8000","#ffa040","#ffb870","#a8302e","#c86a6a","#ff7a10","#ffa055","#ff8c30","#ffb070","#f3d68c","#f8e4b0","#00e0ee","#5ceaf2","#22e4f0","#f07878","#eee000","#f3e850","#f0e420","#e8348c","#f07ab0","#0808e0","#4a4af0","#2020e8","#f09c7c","#f5b89c","#2f93c6","#6cb6dc","#4aa6d4","#f2d68c","#f6e2aa","#7d7d1e","#a0a048","#b8b878","#e07070","#eaa0a0","#ef6a2c","#f29060","#f4a57c","#f07c44","#f5a882","#f29868","#9a48b8","#c088d4"]}},
   "strokeWidth":{"field":"k","type":"nominal","legend":null,"scale":{"domain":["1Ca","1Cb","1Cc","1Ta","1Tb","3Aa","3Ab","3Ac","3Ad","3Ga","3Gb","5Ca","5Cb","5Cc","5T","7Aa","7Ab","7Ac","7Ga","7Gb","2Ta","2Tb","2Tc","2Ca","2Cb","4Ca","4Cb","4Cc","4Ta","4Tb","6Ca","6Cb","6Cc","6Ta","6Tb","8Ga","8Gb","8Gc","8Gd","8Ge","8Gf","8Aa","8Ab"],"range":[2.6,2.3,2.3,1.1,1.1,1.7,1.3,1.3,1.3,1.1,1.1,2.6,2.3,2.3,1.1,2.6,2.3,2.3,1.5,1.5,2.6,2.3,2.3,1.1,1.1,2.6,2.3,2.3,1.1,1.1,2.6,2.3,1.4,1.1,1.1,1.6,1.1,1.1,1.3,1.1,1.1,1.8,1.4]}}}},
  {"data":{"name":"labels"},"transform":[{"filter":"datum.p==1 && datum.kind=='snp'"}],"mark":{"type":"text","font":"Lato","fontSize":20.5,"align":"left","baseline":"middle","color":"#111"},"encoding":{"text":{"field":"txt"}}},
  {"data":{"name":"labels"},"transform":[{"filter":"datum.p==1 && datum.kind=='grp'"}],"mark":{"type":"text","font":"Lato","fontSize":14.5,"align":"left","baseline":"middle","color":"#111"},"encoding":{"text":{"field":"txt"}}},
  {"data":{"name":"labels"},"transform":[{"filter":"datum.p==1 && datum.kind=='gt'"}],"mark":{"type":"text","font":"Lato","fontSize":20,"align":"center","baseline":"middle","color":"#111"},"encoding":{"text":{"field":"txt"}}}
 ]},
{"width":303,"height":199,
 "encoding":{"x":{"field":"t","type":"quantitative","scale":{"domain":[72.0,79.1],"nice":false,"zero":false},"axis":{"title":"Temperature(°C)","values":[72.5,73,73.5,74,74.5,75,75.5,76,76.5,77,77.5,78,78.5,79],"format":".1f"}},
  "y":{"field":"f","type":"quantitative","scale":{"domain":[0,105],"nice":false},"axis":{"title":"Aligned Fluorescence(%)","values":[0,5,10,15,20,25,30,35,40,45,50,55,60,65,70,75,80,85,90,95,100,105]}}},
 "layer":[
  {"data":{"name":"curves"},"transform":[{"filter":"datum.p==3"}],"mark":{"type":"line","interpolate":"monotone","clip":true},"encoding":{"color":{"field":"k","type":"nominal","legend":null},"strokeWidth":{"field":"k","type":"nominal","legend":null}}},
  {"data":{"name":"labels"},"transform":[{"filter":"datum.p==3 && datum.kind=='snp'"}],"mark":{"type":"text","font":"Lato","fontSize":20.5,"align":"left","baseline":"middle","color":"#111"},"encoding":{"text":{"field":"txt"}}},
  {"data":{"name":"labels"},"transform":[{"filter":"datum.p==3 && datum.kind=='grp'"}],"mark":{"type":"text","font":"Lato","fontSize":14.5,"align":"left","baseline":"middle","color":"#111"},"encoding":{"text":{"field":"txt"}}},
  {"data":{"name":"labels"},"transform":[{"filter":"datum.p==3 && datum.kind=='gt'"}],"mark":{"type":"text","font":"Lato","fontSize":20,"align":"center","baseline":"middle","color":"#111"},"encoding":{"text":{"field":"txt"}}}
 ]},
{"width":303,"height":199,
 "encoding":{"x":{"field":"t","type":"quantitative","scale":{"domain":[71.7,77.82],"nice":false,"zero":false},"axis":{"title":"Temperature(°C)","values":[71.75,72,72.25,72.5,72.75,73,73.25,73.5,73.75,74,74.25,74.5,74.75,75,75.25,75.5,75.75,76,76.25,76.5,76.75,77,77.25,77.5,77.75],"format":".2f"}},
  "y":{"field":"f","type":"quantitative","scale":{"domain":[0,105],"nice":false},"axis":{"title":"Aligned Fluorescence(%)","values":[0,5,10,15,20,25,30,35,40,45,50,55,60,65,70,75,80,85,90,95,100,105]}}},
 "layer":[
  {"data":{"name":"curves"},"transform":[{"filter":"datum.p==5"}],"mark":{"type":"line","interpolate":"monotone","clip":true},"encoding":{"color":{"field":"k","type":"nominal","legend":null},"strokeWidth":{"field":"k","type":"nominal","legend":null}}},
  {"data":{"name":"labels"},"transform":[{"filter":"datum.p==5 && datum.kind=='snp'"}],"mark":{"type":"text","font":"Lato","fontSize":20.5,"align":"left","baseline":"middle","color":"#111"},"encoding":{"text":{"field":"txt"}}},
  {"data":{"name":"labels"},"transform":[{"filter":"datum.p==5 && datum.kind=='grp'"}],"mark":{"type":"text","font":"Lato","fontSize":14.5,"align":"left","baseline":"middle","color":"#111"},"encoding":{"text":{"field":"txt"}}},
  {"data":{"name":"labels"},"transform":[{"filter":"datum.p==5 && datum.kind=='gt'"}],"mark":{"type":"text","font":"Lato","fontSize":20,"align":"center","baseline":"middle","color":"#111"},"encoding":{"text":{"field":"txt"}}}
 ]},
{"width":303,"height":199,
 "encoding":{"x":{"field":"t","type":"quantitative","scale":{"domain":[71.88,79.42],"nice":false,"zero":false},"axis":{"title":"Temperature(°C)","values":[72,72.5,73,73.5,74,74.5,75,75.5,76,76.5,77,77.5,78,78.5,79],"format":".1f"}},
  "y":{"field":"f","type":"quantitative","scale":{"domain":[0,105],"nice":false},"axis":{"title":"Aligned Fluorescence(%)","values":[0,5,10,15,20,25,30,35,40,45,50,55,60,65,70,75,80,85,90,95,100,105]}}},
 "layer":[
  {"data":{"name":"curves"},"transform":[{"filter":"datum.p==7"}],"mark":{"type":"line","interpolate":"monotone","clip":true},"encoding":{"color":{"field":"k","type":"nominal","legend":null},"strokeWidth":{"field":"k","type":"nominal","legend":null}}},
  {"data":{"name":"labels"},"transform":[{"filter":"datum.p==7 && datum.kind=='snp'"}],"mark":{"type":"text","font":"Lato","fontSize":20.5,"align":"left","baseline":"middle","color":"#111"},"encoding":{"text":{"field":"txt"}}},
  {"data":{"name":"labels"},"transform":[{"filter":"datum.p==7 && datum.kind=='grp'"}],"mark":{"type":"text","font":"Lato","fontSize":14.5,"align":"left","baseline":"middle","color":"#111"},"encoding":{"text":{"field":"txt"}}},
  {"data":{"name":"labels"},"transform":[{"filter":"datum.p==7 && datum.kind=='gt'"}],"mark":{"type":"text","font":"Lato","fontSize":20,"align":"center","baseline":"middle","color":"#111"},"encoding":{"text":{"field":"txt"}}}
 ]},
{"width":303,"height":199,
 "encoding":{"x":{"field":"t","type":"quantitative","scale":{"domain":[72.95,79.04],"nice":false,"zero":false},"axis":{"title":"Temperature(°C)","values":[73,73.25,73.5,73.75,74,74.25,74.5,74.75,75,75.25,75.5,75.75,76,76.25,76.5,76.75,77,77.25,77.5,77.75,78,78.25,78.5,78.75,79],"format":".2f"}},
  "y":{"field":"f","type":"quantitative","scale":{"domain":[0,105],"nice":false},"axis":{"title":"Aligned Fluorescence(%)","values":[0,5,10,15,20,25,30,35,40,45,50,55,60,65,70,75,80,85,90,95,100,105]}}},
 "layer":[
  {"data":{"name":"curves"},"transform":[{"filter":"datum.p==2"}],"mark":{"type":"line","interpolate":"monotone","clip":true},"encoding":{"color":{"field":"k","type":"nominal","legend":null},"strokeWidth":{"field":"k","type":"nominal","legend":null}}},
  {"data":{"name":"labels"},"transform":[{"filter":"datum.p==2 && datum.kind=='snp'"}],"mark":{"type":"text","font":"Lato","fontSize":20.5,"align":"left","baseline":"middle","color":"#111"},"encoding":{"text":{"field":"txt"}}},
  {"data":{"name":"labels"},"transform":[{"filter":"datum.p==2 && datum.kind=='grp'"}],"mark":{"type":"text","font":"Lato","fontSize":14.5,"align":"left","baseline":"middle","color":"#111"},"encoding":{"text":{"field":"txt"}}},
  {"data":{"name":"labels"},"transform":[{"filter":"datum.p==2 && datum.kind=='gt'"}],"mark":{"type":"text","font":"Lato","fontSize":20,"align":"center","baseline":"middle","color":"#111"},"encoding":{"text":{"field":"txt"}}}
 ]},
{"width":303,"height":199,
 "encoding":{"x":{"field":"t","type":"quantitative","scale":{"domain":[71.9,79.54],"nice":false,"zero":false},"axis":{"title":"Temperature(°C)","values":[72,72.5,73,73.5,74,74.5,75,75.5,76,76.5,77,77.5,78,78.5,79,79.5],"format":".1f"}},
  "y":{"field":"f","type":"quantitative","scale":{"domain":[0,105],"nice":false},"axis":{"title":"Aligned Fluorescence(%)","values":[0,5,10,15,20,25,30,35,40,45,50,55,60,65,70,75,80,85,90,95,100,105]}}},
 "layer":[
  {"data":{"name":"curves"},"transform":[{"filter":"datum.p==4"}],"mark":{"type":"line","interpolate":"monotone","clip":true},"encoding":{"color":{"field":"k","type":"nominal","legend":null},"strokeWidth":{"field":"k","type":"nominal","legend":null}}},
  {"data":{"name":"labels"},"transform":[{"filter":"datum.p==4 && datum.kind=='snp'"}],"mark":{"type":"text","font":"Lato","fontSize":20.5,"align":"left","baseline":"middle","color":"#111"},"encoding":{"text":{"field":"txt"}}},
  {"data":{"name":"labels"},"transform":[{"filter":"datum.p==4 && datum.kind=='grp'"}],"mark":{"type":"text","font":"Lato","fontSize":14.5,"align":"left","baseline":"middle","color":"#111"},"encoding":{"text":{"field":"txt"}}},
  {"data":{"name":"labels"},"transform":[{"filter":"datum.p==4 && datum.kind=='gt'"}],"mark":{"type":"text","font":"Lato","fontSize":20,"align":"center","baseline":"middle","color":"#111"},"encoding":{"text":{"field":"txt"}}}
 ]},
{"width":303,"height":199,
 "encoding":{"x":{"field":"t","type":"quantitative","scale":{"domain":[72.7,80.2],"nice":false,"zero":false},"axis":{"title":"Temperature(°C)","values":[72.75,73,73.25,73.5,73.75,74,74.25,74.5,74.75,75,75.25,75.5,75.75,76,76.25,76.5,76.75,77,77.25,77.5,77.75,78,78.25,78.5,78.75,79,79.25,79.5,79.75,80],"format":".2f"}},
  "y":{"field":"f","type":"quantitative","scale":{"domain":[0,105],"nice":false},"axis":{"title":"Aligned Fluorescence(%)","values":[0,5,10,15,20,25,30,35,40,45,50,55,60,65,70,75,80,85,90,95,100,105]}}},
 "layer":[
  {"data":{"name":"curves"},"transform":[{"filter":"datum.p==6"}],"mark":{"type":"line","interpolate":"monotone","clip":true},"encoding":{"color":{"field":"k","type":"nominal","legend":null},"strokeWidth":{"field":"k","type":"nominal","legend":null}}},
  {"data":{"name":"labels"},"transform":[{"filter":"datum.p==6 && datum.kind=='snp'"}],"mark":{"type":"text","font":"Lato","fontSize":20.5,"align":"left","baseline":"middle","color":"#111"},"encoding":{"text":{"field":"txt"}}},
  {"data":{"name":"labels"},"transform":[{"filter":"datum.p==6 && datum.kind=='grp'"}],"mark":{"type":"text","font":"Lato","fontSize":14.5,"align":"left","baseline":"middle","color":"#111"},"encoding":{"text":{"field":"txt"}}},
  {"data":{"name":"labels"},"transform":[{"filter":"datum.p==6 && datum.kind=='gt'"}],"mark":{"type":"text","font":"Lato","fontSize":20,"align":"center","baseline":"middle","color":"#111"},"encoding":{"text":{"field":"txt"}}}
 ]},
{"width":303,"height":199,
 "encoding":{"x":{"field":"t","type":"quantitative","scale":{"domain":[71.9,83.73],"nice":false,"zero":false},"axis":{"title":"Temperature(°C)","values":[72,72.5,73,73.5,74,74.5,75,75.5,76,76.5,77,77.5,78,78.5,79,79.5,80,80.5,81,81.5,82,82.5,83,83.5],"format":".1f"}},
  "y":{"field":"f","type":"quantitative","scale":{"domain":[0,105],"nice":false},"axis":{"title":"Aligned Fluorescence(%)","values":[0,5,10,15,20,25,30,35,40,45,50,55,60,65,70,75,80,85,90,95,100,105]}}},
 "layer":[
  {"data":{"name":"curves"},"transform":[{"filter":"datum.p==8"}],"mark":{"type":"line","interpolate":"monotone","clip":true},"encoding":{"color":{"field":"k","type":"nominal","legend":null},"strokeWidth":{"field":"k","type":"nominal","legend":null}}},
  {"data":{"name":"labels"},"transform":[{"filter":"datum.p==8 && datum.kind=='snp'"}],"mark":{"type":"text","font":"Lato","fontSize":20.5,"align":"left","baseline":"middle","color":"#111"},"encoding":{"text":{"field":"txt"}}},
  {"data":{"name":"labels"},"transform":[{"filter":"datum.p==8 && datum.kind=='grp'"}],"mark":{"type":"text","font":"Lato","fontSize":14.5,"align":"left","baseline":"middle","color":"#111"},"encoding":{"text":{"field":"txt"}}},
  {"data":{"name":"labels"},"transform":[{"filter":"datum.p==8 && datum.kind=='gt'"}],"mark":{"type":"text","font":"Lato","fontSize":20,"align":"center","baseline":"middle","color":"#111"},"encoding":{"text":{"field":"txt"}}}
 ]}
],
"resolve":{"scale":{"color":"shared","strokeWidth":"shared"}},
"config":{
 "view":{"stroke":"#c8c8c8","strokeWidth":1},
 "axis":{"labelFont":"Liberation Sans","titleFont":"Liberation Sans","labelFontSize":4,"titleFontSize":5.5,"titleFontWeight":"normal","labelColor":"#666","titleColor":"#555","grid":true,"gridColor":"#dcdcdc","gridDash":[2,2],"gridWidth":0.8,"domainColor":"#c8c8c8","tickColor":"#bbb","tickSize":2,"labelPadding":1.5,"labelOverlap":false,"labelFlush":false},
 "axisX":{"labelAngle":0,"titlePadding":1,"minExtent":6,"maxExtent":6},
 "axisY":{"titlePadding":3,"minExtent":12,"maxExtent":12}
}
}
